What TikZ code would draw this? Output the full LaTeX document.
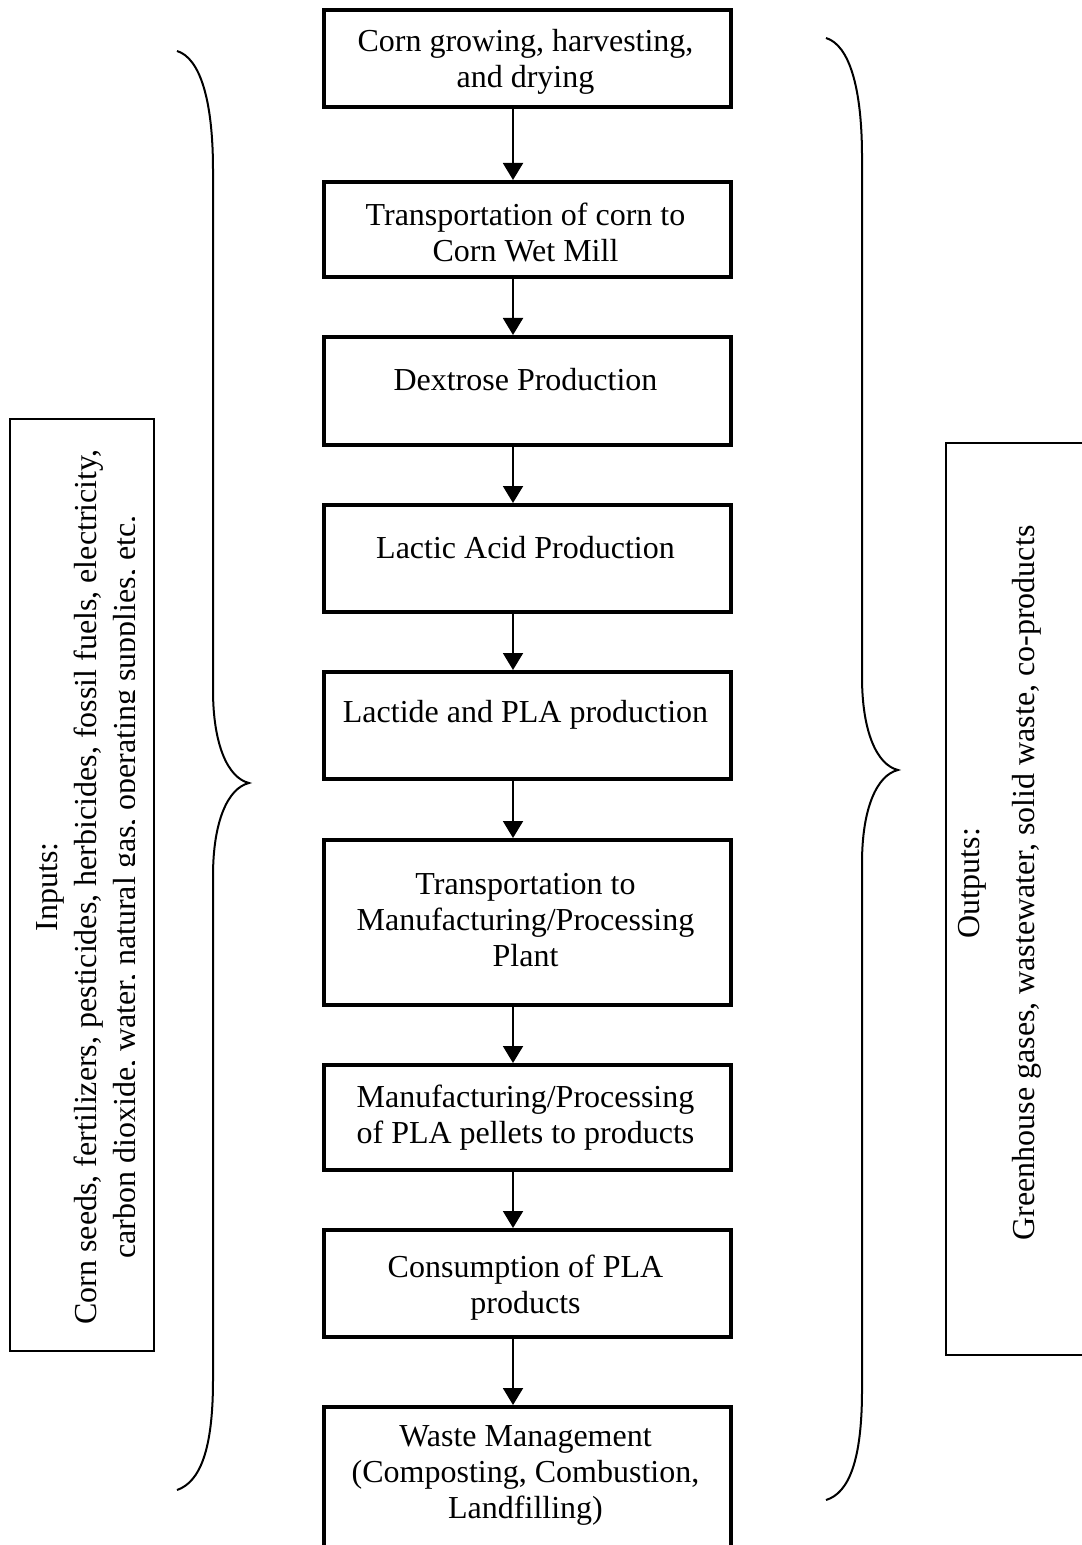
\documentclass[tikz,border=0pt]{standalone}
\usepackage{fontspec}
\setmainfont{Liberation Serif}
\usetikzlibrary{arrows.meta}
\begin{document}
\begin{tikzpicture}[x=0.5pt,y=-0.5pt,
  stage/.style={draw, line width=2pt, inner sep=0pt, minimum width=203.5pt, anchor=north west},
  lbl/.style={font=\fontsize{16}{18}\selectfont, align=center, inner sep=0pt},
  side/.style={draw, line width=1pt, inner sep=0pt, anchor=north west},
  flow/.style={line width=1pt, -{Triangle[width=10pt,length=8.5pt]}},
  brace/.style={line width=1pt}]
\useasboundingbox (0,0) rectangle (1081,1545);
\fill[white] (0,0) rectangle (1081,1545);

% stage boxes
\node[stage, minimum height=48.5pt] (b1) at (322,8) {};
\node[stage, minimum height=47.5pt] (b2) at (322,180) {};
\node[stage, minimum height=54pt] (b3) at (322,335) {};
\node[stage, minimum height=53.5pt] (b4) at (322,503) {};
\node[stage, minimum height=53.5pt] (b5) at (322,670) {};
\node[stage, minimum height=82.5pt] (b6) at (322,838) {};
\node[stage, minimum height=52.5pt] (b7) at (322,1063) {};
\node[stage, minimum height=53.5pt] (b8) at (322,1228) {};
\node[stage, minimum height=77.5pt] (b9) at (322,1405) {};

% texts
\node[lbl] (t1) at (525.5,62) {Corn growing, harvesting,\\and drying};
\node[lbl] (t2) at (525.5,232) {Transportation of corn to\\Corn Wet Mill};
\node[lbl] (t3) at (525.5,380) {Dextrose Production};
\node[lbl] (t4) at (525.5,548) {Lactic Acid Production};
\node[lbl] (t5) at (525.5,715) {Lactide and PLA production};
\node[lbl] (t6) at (525.5,920) {Transportation to\\Manufacturing/Processing\\Plant};
\node[lbl] (t7) at (525.5,1118) {Manufacturing/Processing\\of PLA pellets to products};
\node[lbl] (t8) at (525.5,1288) {Consumption of PLA\\products};
\node[lbl] (t9) at (525.5,1475) {Waste Management\\(Composting, Combustion,\\Landfilling)};

% arrows
\coordinate (ax) at (513,0);
\draw[flow] (b1.south -| ax) -- (b2.north -| ax);
\draw[flow] (b2.south -| ax) -- (b3.north -| ax);
\draw[flow] (b3.south -| ax) -- (b4.north -| ax);
\draw[flow] (b4.south -| ax) -- (b5.north -| ax);
\draw[flow] (b5.south -| ax) -- (b6.north -| ax);
\draw[flow] (b6.south -| ax) -- (b7.north -| ax);
\draw[flow] (b7.south -| ax) -- (b8.north -| ax);
\draw[flow] (b8.south -| ax) -- (b9.north -| ax);

% inputs box
\node[side, minimum width=72pt, minimum height=466pt] (inbox) at (9,418) {};
\begin{scope}
\clip (11,420) rectangle (134,1348);
\node[rotate=90, font=\fontsize{16}{19.5}\selectfont, align=center, inner sep=0pt] (intext) at (89,887)
 {Inputs:\\Corn seeds, fertilizers, pesticides, herbicides, fossil fuels, electricity,\\carbon dioxide, water, natural gas, operating supplies, etc.};
\end{scope}

% outputs box
\node[side, minimum width=75pt, minimum height=456pt] (outbox) at (945,442) {};
\node[rotate=90, font=\fontsize{16}{27.5}\selectfont, align=center, inner sep=0pt] (outtext) at (1000,883)
 {Outputs:\\Greenhouse gases, wastewater, solid waste, co-products};

% braces
\draw[brace] (177,51) .. controls (200,58) and (213,100) .. (213,170) -- (213,690)
  .. controls (213,745) and (228,778) .. (249,783)
  .. controls (228,788) and (213,821) .. (213,876) -- (213,1380)
  .. controls (213,1450) and (200,1482) .. (177,1490);
\draw[brace] (826,38) .. controls (849,45) and (862,87) .. (862,157) -- (862,677)
  .. controls (862,732) and (877,765) .. (898,770)
  .. controls (877,775) and (862,808) .. (862,863) -- (862,1390)
  .. controls (862,1460) and (849,1493) .. (826,1500);
\end{tikzpicture}
\end{document}
